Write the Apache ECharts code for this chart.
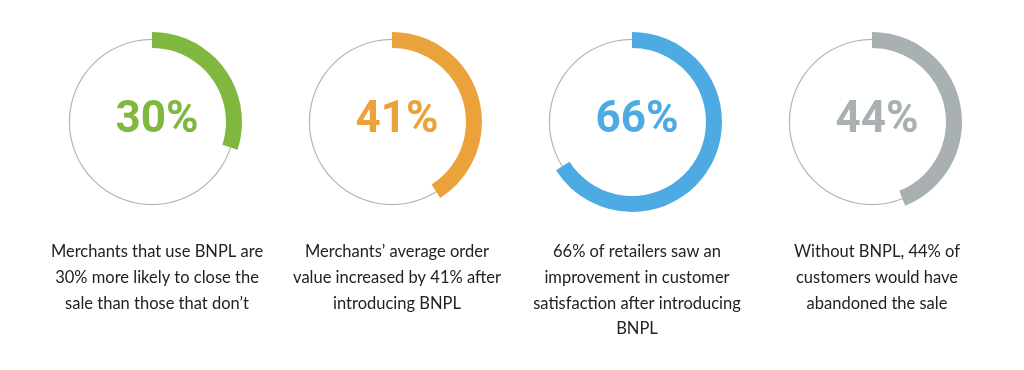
<!DOCTYPE html>
<html><head><meta charset="utf-8">
<script src="https://cdn.jsdelivr.net/npm/echarts@6/dist/echarts.min.js"></script>
<style>html,body{margin:0;padding:0;background:#fff}#c{width:1024px;height:370px}</style>
</head><body><div id="c"></div>
<script>
const values = [30, 41, 66, 44];
const valueLabels = ['30%', '41%', '66%', '44%'];
const descriptions = [
  'Merchants that use BNPL are\n30% more likely to close the\nsale than those that don\u2019t',
  'Merchants\u2019 average order\nvalue increased by 41% after\nintroducing BNPL',
  '66% of retailers saw an\nimprovement in customer\nsatisfaction after introducing\nBNPL',
  'Without BNPL, 44% of\ncustomers would have\nabandoned the sale'
];
const colors = ['#7fb73f', '#eca23b', '#4eaae2', '#a8b0b1'];
const centersX = [152, 392, 632, 872];
const centerY = 122;

const series = [];
const titles = [];
values.forEach((v, i) => {
  series.push({
    type: 'pie', silent: true, center: [centersX[i], centerY], radius: [82, 83.2],
    label: { show: false }, labelLine: { show: false },
    data: [{ value: 100, itemStyle: { color: '#b4b4b4' } }]
  });
  series.push({
    type: 'pie', silent: true, center: [centersX[i], centerY], radius: [74, 90],
    startAngle: 90, clockwise: true,
    label: { show: false }, labelLine: { show: false },
    data: [
      { value: v, itemStyle: { color: colors[i] } },
      { value: 100 - v, itemStyle: { color: 'rgba(0,0,0,0)' } }
    ]
  });
  titles.push({
    text: valueLabels[i], left: centersX[i], top: 92, textAlign: 'center',
    textStyle: { fontFamily: 'Roboto', fontWeight: 'bold', fontSize: 44, color: colors[i], lineHeight: 48 }
  });
  titles.push({
    text: descriptions[i], left: centersX[i], top: 234, textAlign: 'center',
    textStyle: { fontFamily: 'Lato', fontWeight: 'normal', fontSize: 16.5, color: '#222222', lineHeight: 25.7 }
  });
});

const chart = echarts.init(document.getElementById('c'), null, { renderer: 'canvas' });
chart.setOption({ animation: false, title: titles, series: series });
</script></body></html>
